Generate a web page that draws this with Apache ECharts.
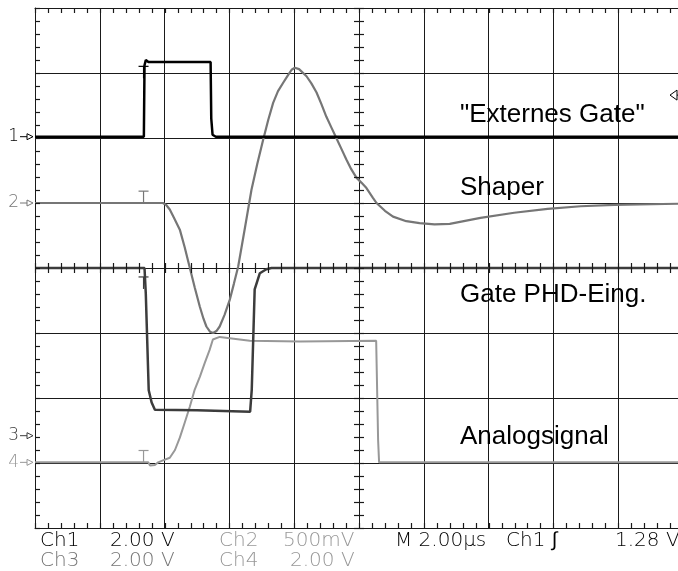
<!DOCTYPE html>
<html><head><meta charset="utf-8">
<script src="https://cdn.jsdelivr.net/npm/echarts@6/dist/echarts.min.js"></script>
<style>html,body{margin:0;padding:0;background:#fff}#c{width:678px;height:571px}</style>
</head><body><div id="c"></div>
<script>
// ---- data (time in µs, amplitude in screen divisions from centre) ----
const ch1Trace = [[-10,2.02],[-6.64,2.02],[-6.62,3.12],[-6.58,3.2],[-6.5,3.17],[-5.2,3.17],[-4.58,3.17],[-4.56,2.3],[-4.52,2.05],[-4.46,2.06],[-4.42,2.02],[10,2.02]];
const ch2Trace = [[-10,1.0],[-6.05,1.0],[-5.95,0.97],[-5.84,0.9],[-5.7,0.76],[-5.53,0.59],[-5.38,0.32],[-5.22,0.0],[-5.07,-0.3],[-4.91,-0.6],[-4.8,-0.78],[-4.71,-0.9],[-4.6,-0.98],[-4.5,-1.0],[-4.4,-0.97],[-4.3,-0.9],[-4.15,-0.72],[-3.99,-0.49],[-3.86,-0.24],[-3.73,0.02],[-3.52,0.62],[-3.32,1.2],[-3.14,1.6],[-2.96,1.97],[-2.8,2.28],[-2.65,2.54],[-2.5,2.72],[-2.34,2.85],[-2.2,2.96],[-2.08,3.05],[-1.98,3.08],[-1.85,3.06],[-1.62,2.95],[-1.47,2.84],[-1.31,2.7],[-1.16,2.52],[-1.01,2.33],[-0.85,2.16],[-0.7,2.0],[-0.55,1.84],[-0.39,1.67],[-0.24,1.52],[-0.08,1.39],[0.08,1.31],[0.23,1.23],[0.43,1.08],[0.54,1.0],[0.8,0.88],[1.05,0.79],[1.46,0.72],[1.87,0.69],[2.33,0.67],[2.8,0.68],[3.75,0.77],[4.79,0.85],[5.82,0.91],[6.84,0.95],[7.88,0.97],[10,0.99]];
const ch3Trace = [[-10,0],[-6.62,0],[-6.58,-0.4],[-6.49,-1.88],[-6.4,-2.07],[-6.3,-2.18],[-5.0,-2.19],[-3.36,-2.21],[-3.31,-1.87],[-3.22,-0.33],[-3.06,-0.08],[-2.86,-0.02],[-2.7,0],[10,0]];
const ch4Trace = [[-10,-2.99],[-6.5,-2.99],[-6.45,-3.04],[-6.39,-3.06],[-6.3,-3.03],[-6.2,-2.99],[-6.05,-2.96],[-5.84,-2.92],[-5.68,-2.8],[-5.53,-2.61],[-5.38,-2.38],[-5.22,-2.13],[-5.07,-1.87],[-4.91,-1.67],[-4.76,-1.46],[-4.61,-1.26],[-4.51,-1.1],[-4.3,-1.06],[-3.37,-1.12],[-1.82,-1.13],[0.53,-1.12],[0.56,-1.12],[0.59,-2.65],[0.62,-2.99],[10,-2.99]];
const channelNumbers = ['1','2','3','4'];
const channelGroundLevels = [2.02, 1.0, -2.58, -2.99];
const channelNames = ['"Externes Gate"', 'Shaper', 'Gate PHD-Eing.', 'Analogsignal'];
const triggerTime = -6.65;
const triggerMarkLevels = [3.01, 1.09, -0.23, -2.9];
const triggerLevel = 2.66;
const scaleRow1 = ['Ch1', '2.00 V', 'Ch2', '500mV', 'M 2.00\u00b5s', 'Ch1 \u222b', '1.28 V'];
const scaleRow2 = ['Ch3', '2.00 V', 'Ch4', '2.00 V'];
const timeRange = [-10, 10];
const voltRange = [-4, 4];
const timeDiv = 2, voltDiv = 1, minorPerDiv = 5;

// ---- styles ----
const colors = ['#000000', '#767676', '#3c3c3c', '#989898'];
const widths = [2.5, 2.2, 2.5, 2];
const gridCol = '#1a1a1a';
const labelFont = "'Liberation Sans', Arial, sans-serif";
const scopeFont = "'DejaVu Sans', sans-serif";

const chart = echarts.init(document.getElementById('c'), null, {renderer: 'canvas'});
function axisBase(isX, pos) {
  return {
    type: 'value',
    min: isX ? timeRange[0] : voltRange[0],
    max: isX ? timeRange[1] : voltRange[1],
    interval: isX ? timeDiv : voltDiv,
    position: pos,
    axisLabel: {show: false},
    axisTick: {show: false},
    splitLine: {show: true, lineStyle: {color: gridCol, width: 1}},
    axisLine: {show: true, onZero: false, lineStyle: {color: gridCol, width: 1}}
  };
}
const option = {
  animation: false,
  backgroundColor: '#fff',
  grid: {left: 35, top: 8, width: 648, height: 520, show: false, containLabel: false, outerBoundsMode: 'none'},
  xAxis: [axisBase(true, 'bottom'), Object.assign(axisBase(true, 'top'), {splitLine: {show: false}})],
  yAxis: [axisBase(false, 'left')],
  series: [ch4Trace, ch3Trace, ch2Trace, ch1Trace].map(function (d, k) {
    const i = 3 - k;
    return {type: 'line', name: channelNames[i], data: d, xAxisIndex: 0, yAxisIndex: 0,
      showSymbol: false, symbol: 'none', lineStyle: {color: colors[i], width: widths[i]},
      itemStyle: {color: colors[i]}, z: 3 + k};
  })
};
chart.setOption(option);

// ---- graticule ticks and annotations placed through the chart's own scales ----
function px(t, v) { return chart.convertToPixel({xAxisIndex: 0, yAxisIndex: 0}, [t, v]); }
function txt(x, y, s, color, font, align) {
  return {type: 'text', x: x, y: y, z: 50,
    style: {text: s, fill: color, font: font, align: align || 'left', textAlign: align || 'left',
      verticalAlign: 'middle', textVerticalAlign: 'middle'}};
}
function seg(x1, y1, x2, y2, color, w) {
  return {type: 'line', z: 40, shape: {x1: x1, y1: y1, x2: x2, y2: y2}, style: {stroke: color, lineWidth: w || 1}};
}
const g = [];
const tickLen = 5;
const nT = Math.round((timeRange[1] - timeRange[0]) / timeDiv * minorPerDiv);
for (let k = 0; k <= nT; k++) {
  const t = timeRange[0] + k * timeDiv / minorPerDiv;
  const top = px(t, voltRange[1]), bot = px(t, voltRange[0]), mid = px(t, 0);
  const x = Math.round(top[0]) + 0.5;
  g.push(seg(x, top[1], x, top[1] + tickLen, gridCol, 1.2));
  g.push(seg(x, bot[1], x, bot[1] - tickLen, gridCol, 1.2));
  g.push(seg(x, mid[1] - tickLen, x, mid[1] + tickLen, gridCol, 1.2));
}
const nV = Math.round((voltRange[1] - voltRange[0]) / voltDiv * minorPerDiv);
for (let k = 0; k <= nV; k++) {
  const v = voltRange[0] + k * voltDiv / minorPerDiv;
  const l = px(timeRange[0], v), c = px(0, v);
  const y = Math.round(l[1]) + 0.5;
  g.push(seg(l[0], y, l[0] + tickLen, y, gridCol, 1.2));
  g.push(seg(c[0] - tickLen, y, c[0] + tickLen, y, gridCol, 1.2));
}

channelNumbers.forEach(function (n, i) {
  const p = px(timeRange[0], channelGroundLevels[i]);
  g.push(txt(p[0] - 16, p[1], n, colors[i], '200 17px ' + scopeFont, 'right'));
  g.push(seg(p[0] - 15, p[1], p[0] - 8, p[1], colors[i]));
  g.push({type: 'polygon', z: 50, shape: {points: [[p[0] - 8, p[1] - 3], [p[0] - 2, p[1]], [p[0] - 8, p[1] + 3]]}, style: {fill: '#fff', stroke: colors[i], lineWidth: 1}});
  const tp = px(triggerTime, triggerMarkLevels[i]);
  g.push(seg(tp[0] - 5, tp[1] - 6, tp[0] + 5, tp[1] - 6, colors[i], 1.2));
  g.push(seg(tp[0], tp[1] - 6, tp[0], tp[1] + 6, colors[i], 1.2));
});
const tl = px(timeRange[1], triggerLevel);
g.push({type: 'polygon', z: 50, shape: {points: [[tl[0] - 13, tl[1]], [tl[0] - 6, tl[1] - 5], [tl[0] - 6, tl[1] + 5]]}, style: {fill: '#fff', stroke: '#000', lineWidth: 1}});
g.push(seg(tl[0] - 6, tl[1], tl[0], tl[1], '#000'));

// channel titles
const titleX = 460;
const titleY = [115, 188, 295, 437];
channelNames.forEach(function (s, i) { g.push(txt(titleX, titleY[i], s, '#000', '26px ' + labelFont)); });

// scale read-outs
const row1X = [40, 110, 219, 283, 395, 506, 615];
const row1C = ['#000', '#000', colors[3], colors[3], '#000', '#000', '#000'];
scaleRow1.forEach(function (s, i) { g.push(txt(row1X[i], 541, s, row1C[i], '200 20px ' + scopeFont)); });
const row2X = [40, 110, 219, 290];
const row2C = [colors[1], colors[1], colors[3], colors[3]];
scaleRow2.forEach(function (s, i) { g.push(txt(row2X[i], 561, s, row2C[i], '200 20px ' + scopeFont)); });

chart.setOption({graphic: {elements: g}});
</script>
</body></html>
